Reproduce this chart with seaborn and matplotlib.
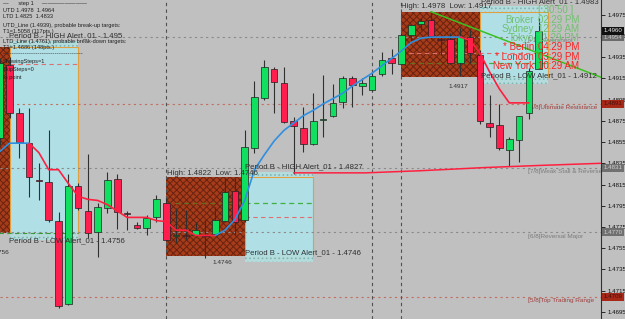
import numpy as np
import pandas as pd
import matplotlib
matplotlib.use('Agg')
import matplotlib.pyplot as plt
import seaborn as sns
from matplotlib.patches import Rectangle

# ---- candles (bar 0 = partly cut bar at the left edge) ----
opens = [1.4859, 1.4928, 1.4882, 1.4854, 1.4819, 1.4817, 1.4781, 1.4702, 1.4814, 1.4790,
         1.4770, 1.4793, 1.4820, 1.4788, 1.4777, 1.4774, 1.4784, 1.4798, 1.4766, 1.4767,
         1.4767, 1.4767, 1.4768, 1.4781, 1.4809, 1.4782, 1.4849, 1.4897, 1.4924, 1.4911,
         1.4875, 1.4868, 1.4853, 1.4876, 1.4880, 1.4893, 1.4915, 1.4908, 1.4904, 1.4919,
         1.4934, 1.4929, 1.4956, 1.4966, 1.4970, 1.4952, 1.4952, 1.4930, 1.4954, 1.4937,
         1.4873, 1.4871, 1.4848, 1.4857, 1.4882, 1.4924]
highs = [1.4934, 1.4935, 1.4887, 1.4887, 1.4835, 1.4866, 1.4789, 1.4825, 1.4816, 1.4844,
         1.4798, 1.4827, 1.4825, 1.4790, 1.4780, 1.4786, 1.4805, 1.4802, 1.4793, 1.4791,
         1.4780, 1.4782, 1.4794, 1.4821, 1.4821, 1.4866, 1.4913, 1.4932, 1.4926, 1.4926,
         1.4879, 1.4888, 1.4901, 1.4918, 1.4910, 1.4917, 1.4917, 1.4915, 1.4921, 1.4940,
         1.4943, 1.4958, 1.4966, 1.4972, 1.4978, 1.4955, 1.4958, 1.4963, 1.4961, 1.4942,
         1.4899, 1.4891, 1.4860, 1.4880, 1.4925, 1.4972]
lows = [1.4852, 1.4878, 1.4840, 1.4803, 1.4800, 1.4780, 1.4699, 1.4701, 1.4791, 1.4765,
        1.4747, 1.4788, 1.4773, 1.4772, 1.4773, 1.4767, 1.4780, 1.4762, 1.4760, 1.4763,
        1.4766, 1.4746, 1.4767, 1.4780, 1.4767, 1.4780, 1.4845, 1.4895, 1.4882, 1.4873,
        1.4825, 1.4846, 1.4852, 1.4860, 1.4879, 1.4887, 1.4888, 1.4899, 1.4903, 1.4917,
        1.4919, 1.4928, 1.4949, 1.4961, 1.4952, 1.4937, 1.4929, 1.4917, 1.4930, 1.4872,
        1.4860, 1.4848, 1.4832, 1.4836, 1.4877, 1.4924]
closes = [1.4930, 1.4882, 1.4855, 1.4822, 1.4818, 1.4782, 1.4700, 1.4814, 1.4793, 1.4769,
          1.4794, 1.4819, 1.4789, 1.4787, 1.4774, 1.4783, 1.4801, 1.4763, 1.4767, 1.4766,
          1.4772, 1.4766, 1.4782, 1.4808, 1.4780, 1.4850, 1.4898, 1.4926, 1.4912, 1.4874,
          1.4870, 1.4853, 1.4875, 1.4877, 1.4892, 1.4915, 1.4909, 1.4911, 1.4917, 1.4932,
          1.4930, 1.4956, 1.4965, 1.4969, 1.4955, 1.4951, 1.4930, 1.4954, 1.4939, 1.4875,
          1.4869, 1.4849, 1.4858, 1.4880, 1.4922, 1.4960]

# ---- trailing line (1 = rising / blue, 0 = falling / red) ----
trail = [1.4846, 1.4854, 1.4854, 1.4854, 1.4845, 1.4829, 1.4829, 1.4816, 1.4804, 1.4801,
         1.4800, 1.4796, 1.4790, 1.4784, 1.4784, 1.4784, 1.4781, 1.4780, 1.4772, 1.4772,
         1.4767, 1.4767, 1.4767, 1.4772, 1.4782, 1.4800, 1.4829, 1.4843, 1.4856, 1.4866,
         1.4873, 1.4880, 1.4885, 1.4891, 1.4896, 1.4901, 1.4908, 1.4914, 1.4920, 1.4927,
         1.4934, 1.4941, 1.4949, 1.4953, 1.4954, 1.4954, 1.4954, 1.4954, 1.4951, 1.4939,
         1.4921, 1.4905, 1.4892, 1.4892, 1.4892]
trail_up = [1] * 4 + [0] * 19 + [1] * 25 + [0] * 7

# ---- period boxes ----
box_start = [-7, 17, 41]
box_high = [1.4945, 1.4822, 1.4978]
box_low = [1.4769, 1.4748, 1.4916]

# ---- Murrey levels ----
mm_levels = [1.4954, 1.4891, 1.4831, 1.4770, 1.4709]
mm_names = ['[+1/8]Overshoot', '[8/8]Ultimate Resistance', '[7/8]Weak Stall & Reverse',
            '[6/8]Reversal Major', '[5/8]Top Trading Range']
mm_red = [False, True, False, False, True]

# ---- other lines ----
trend_x = [44, 61.4]
trend_y = [1.4978, 1.4916]
alert_x = [30, 37.3, 42.9, 49.5, 55.1, 61.3]
alert_y = [1.4826, 1.4826, 1.4828, 1.4831, 1.4833, 1.4835]
separators = [17, 38, 41]

sns.set_theme(style='ticks', rc={'axes.facecolor': '#c0c0c0', 'figure.facecolor': '#c0c0c0'})
plt.rcParams['font.family'] = ['Liberation Sans', 'DejaVu Sans']
plt.rcParams['hatch.linewidth'] = 0.7

fig = plt.figure(figsize=(6.25, 3.19), dpi=100)
ax = fig.add_axes([0, 0, 601 / 625, 1])

bars = np.arange(len(opens))
o = np.array(opens); c = np.array(closes)
up = c >= o

# boxes
for s, hi, lo in zip(box_start, box_high, box_low):
    ax.add_patch(Rectangle((s, lo), 8, hi - lo, facecolor='#a63c1a', edgecolor='#6a2210',
                           hatch='xxxxx', lw=0, zorder=1))
    ax.add_patch(Rectangle((s + 8, lo), 7, hi - lo, facecolor='#b0e0e6', edgecolor='#e0a040',
                           lw=0.8, zorder=1))
    for y0, h in [(hi, 0.0005), (lo - 0.0006, 0.0006)]:
        ax.add_patch(Rectangle((s + 8, y0), 7, h, facecolor='#b4dcdc', edgecolor='#7fb5b5',
                               hatch='....', lw=0, zorder=1))

# dashed lines inside the boxes
ax.hlines(1.4929, 1, 8, colors='#e07070', linestyles=(0, (4, 3)), lw=0.8, zorder=1.5)
ax.hlines(1.4769, -1, 8, colors='#3a9a3a', linestyles=(0, (4, 3)), lw=0.8, zorder=1.5)
ax.hlines(1.4798, 17, 25, colors='#6b6b1f', linestyles=(0, (4, 3)), lw=0.9, zorder=1.5)
ax.hlines(1.4798, 25, 32, colors='#40b040', linestyles=(0, (4, 3)), lw=0.9, zorder=1.5)
ax.hlines(1.4784, 25, 32, colors='#e07070', linestyles=(0, (4, 3)), lw=0.8, zorder=1.5)
ax.hlines(1.4930, 41, 49, colors='#6b6b1f', linestyles=(0, (4, 3)), lw=0.9, zorder=1.5)
ax.hlines(1.4930, 49, 56, colors='#40b040', linestyles=(0, (4, 3)), lw=0.9, zorder=1.5)
ax.hlines(1.4939, 41, 56, colors='#e07070', linestyles=(0, (4, 3)), lw=0.8, zorder=1.5)

# Murrey levels and separators
for lv, nm, red in zip(mm_levels, mm_names, mm_red):
    col = '#c07060' if red else '#8a8a8a'
    ax.axhline(lv, color=col, ls=(0, (2, 3)), lw=0.8, zorder=1.2)
    ax.text(53.9, lv - 0.00012, nm, fontsize=4.6, va='top', ha='left',
            color='#a04040' if red else '#7c7c7c', zorder=2)
for sx in separators:
    ax.axvline(sx, color='#505050', ls=(0, (3, 3)), lw=0.8, zorder=1.3)

# candles
ax.vlines(bars, lows, highs, colors='#303030', lw=0.8, zorder=3)
body = np.maximum(np.abs(c - o), 0.00004)
ax.bar(bars, body, bottom=np.minimum(o, c), width=0.66,
       color=np.where(up, '#10e060', '#ff1e4e'), edgecolor='#202020', linewidth=0.5, zorder=4)

# trailing line, split into coloured runs
rows = []
seg = 0
for k in range(1, len(trail)):
    if k > 1 and trail_up[k] != trail_up[k - 1]:
        seg += 1
    rows.append((k - 1, trail[k - 1], seg, trail_up[k]))
    rows.append((k, trail[k], seg, trail_up[k]))
tdf = pd.DataFrame(rows, columns=['bar', 'trail', 'seg', 'up'])
for sid, g in tdf.groupby('seg'):
    sns.lineplot(data=g, x='bar', y='trail', ax=ax, sort=False, estimator=None,
                 color='#2f8fe0' if g['up'].iloc[0] else '#ff2040', lw=1.2, zorder=5)

# trend line and alert line
ax.plot(trend_x, trend_y, color='#3cc020', lw=1.1, zorder=5)
ax.plot(alert_x, alert_y, color='#ff2040', lw=1.1, zorder=5)

ax.set_xlim(0.03, 61.36)
ax.set_ylim(1.46882, 1.4989)
ax.set_xlabel('')
ax.set_ylabel('')
ax.set_xticks([])
ax.yaxis.tick_right()
ax.set_yticks(np.arange(1.4695, 1.4976, 0.002))
ax.yaxis.set_major_formatter(matplotlib.ticker.FormatStrFormatter('%.4f'))
ax.tick_params(axis='y', labelsize=4.4, length=3, width=0.6, pad=1.5, colors='#101010')
for sp in ['top', 'left', 'bottom']:
    ax.spines[sp].set_visible(False)
ax.spines['right'].set_color('#303030')
ax.spines['right'].set_linewidth(0.8)

# price labels on the axis
axis_marks = [(1.4954, '#6a6a6a', '#c8c8c8'), (1.4960, '#101010', '#f0f0f0'),
              (1.4891, '#a82818', '#401010'), (1.4831, '#707070', '#d0d0d0'),
              (1.4770, '#707070', '#d0d0d0'), (1.4709, '#a82818', '#401010')]
for v, fc, tc in axis_marks:
    ax.text(1.004, v, f'{v:.4f}', transform=ax.get_yaxis_transform(), fontsize=4.4,
            va='center', ha='left', color=tc, zorder=10,
            bbox=dict(boxstyle='square,pad=0.25', fc=fc, ec='none'))


def ftext(x, y, s, **kw):
    kw.setdefault('va', 'center')
    fig.text(x / 625, 1 - y / 319, s, **kw)


info = [(3, '—      step 1     ————————'), (10, 'UTD 1.4978  1.4964'), (17, 'LTD 1.4825  1.4833'),
        (25, 'UTD_Line (1.4939), probable break-up targets:'), (32, 'T1=1.5058 (117pts.)'),
        (41, 'LTD_Line (1.4761), probable break-down targets:'), (48, 'T1=1.4686 (148pts.)'),
        (54, '-------------------------------------------'), (62, 'ShowingSteps=1'),
        (69, 'SkipSteps=0'), (77, 'In point')]
for y, s in info:
    ftext(3, y, s, fontsize=4.1, color='#202020')

lab = dict(fontsize=5.6, color='#303030')
ftext(9, 36, 'Period B - HIGH Alert_01 - 1.495', **lab)
ftext(9, 241, 'Period B - LOW Alert_01 - 1.4756', **lab)
ftext(9, 252, '1.4756', fontsize=4.6, color='#303030', ha='right')
ftext(167, 173, 'High: 1.4822  Low: 1.4746', **lab)
ftext(245, 167, 'Period B - HIGH Alert_01 - 1.4827', **lab)
ftext(245, 253, 'Period B - LOW Alert_01 - 1.4746', **lab)
ftext(222, 262, '1.4746', fontsize=4.6, color='#303030', ha='center')
ftext(401, 6, 'High: 1.4978  Low: 1.4917', **lab)
ftext(481, 2, 'Period B - HIGH Alert_01 - 1.4983', **lab)
ftext(481, 76, 'Period B - LOW Alert_01 - 1.4912', **lab)
ftext(458, 87, '1.4917', fontsize=4.6, color='#303030', ha='center')

clock_names = ['Broker', 'Sydney', 'Tokyo', '* Berlin', '* London', 'New York']
clock_times = ['02:29 PM', '12:29 AM', '11:29 PM', '04:29 PM', '03:29 PM', '10:29 AM']
clock_y = [20, 29, 38, 47, 57, 66]
ftext(538, 10, '[ 30:50 ]', fontsize=7, color='#70c070')
for i, (n, t, y) in enumerate(zip(clock_names, clock_times, clock_y)):
    col = '#70c070' if i < 3 else '#ff2020'
    ftext(534, y, n, fontsize=7, color=col, ha='right')
    ftext(538, y, t, fontsize=7, color=col)

fig.savefig('out.png', dpi=100, facecolor='#c0c0c0')
